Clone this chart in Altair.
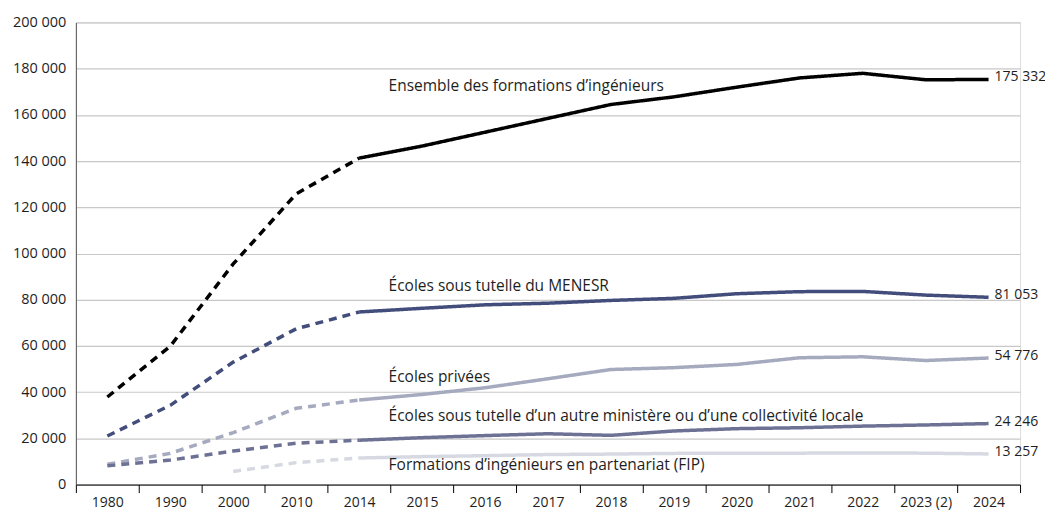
import altair as alt
import pandas as pd

years = ["1980", "1990", "2000", "2010", "2014", "2015", "2016", "2017", "2018",
         "2019", "2020", "2021", "2022", "2023 (2)", "2024"]

series_names = [
    "Ensemble des formations d’ingénieurs",
    "Écoles sous tutelle du MENESR",
    "Écoles privées",
    "Écoles sous tutelle d’un autre ministère ou d’une collectivité locale",
    "Formations d’ingénieurs en partenariat (FIP)",
]

ensemble = [37900, 59900, 95500, 125800, 141300, 146500, 152500, 158500, 164500,
            167800, 172000, 176000, 178000, 175200, 175332]
menesr = [21000, 34300, 53000, 67400, 74700, 76300, 77800, 78500, 79700,
          80600, 82600, 83500, 83600, 82000, 81053]
privees = [8800, 13500, 22500, 33000, 36600, 39000, 41900, 45800, 49800,
           50600, 52000, 54900, 55300, 53700, 54776]
autre = [8100, 10600, 14500, 17900, 19200, 20300, 21200, 22000, 21300,
         23200, 24200, 24600, 25300, 25800, 26400]
fip = [None, None, 5700, 9500, 11500, 12100, 12500, 13000, 13200,
       13500, 13600, 13600, 13700, 13600, 13257]

end_labels = ["175 332", "81 053", "54 776", "24 246", "13 257"]
label_values = [172600, 86100, 46400, 29600, 8400]
y_ticks = [0, 20000, 40000, 60000, 80000, 100000, 120000, 140000, 160000, 180000, 200000]

colors = ["#000000", "#434d7c", "#a6aabe", "#6d7295", "#d7d9e2"]

all_values = [ensemble, menesr, privees, autre, fip]

rows = []
split = years.index("2014")
for name, vals in zip(series_names, all_values):
    for i, (yr, v) in enumerate(zip(years, vals)):
        if v is None:
            continue
        if i <= split:
            rows.append({"serie": name, "annee": yr, "valeur": v, "segment": "avant", "ordre": i})
        if i >= split:
            rows.append({"serie": name, "annee": yr, "valeur": v, "segment": "apres", "ordre": i})
df = pd.DataFrame(rows)

ends = pd.DataFrame({
    "serie": series_names,
    "annee": [years[-1]] * 5,
    "valeur": [v[-1] for v in all_values],
    "texte": end_labels,
})
names_df = pd.DataFrame({
    "serie": series_names,
    "annee": ["2015"] * 5,
    "valeur": label_values,
})

FONT = "Open Sans"
xscale = alt.Scale(type="band", domain=years, paddingInner=0, paddingOuter=0)
yscale = alt.Scale(domain=[0, 200000], nice=False)
cscale = alt.Scale(domain=series_names, range=colors)

x_line = alt.X("annee:N", scale=xscale, bandPosition=0.5, sort=years,
               axis=alt.Axis(title=None, tickBand="extent", labelAngle=0, domainColor="#000000",
                             tickColor="#000000", tickSize=8, labelPadding=3, grid=False,
                             labelFont=FONT, labelFontSize=14, labelColor="#1e1e1e"))
y_enc = alt.Y("valeur:Q", scale=yscale,
              axis=alt.Axis(title=None, values=y_ticks, labelOverlap=False,
                            labelExpr="datum.value == 0 ? '0' : format(datum.value/1000, 'd') + ' 000'",
                            ticks=False, labelPadding=10, domainColor="#555555",
                            gridColor="#c8c8c8", gridWidth=1.2,
                            labelFont=FONT, labelFontSize=14.5, labelColor="#1e1e1e"))

lines = alt.Chart(df).mark_line(strokeWidth=3.5, strokeCap="butt").encode(
    x=x_line,
    y=y_enc,
    color=alt.Color("serie:N", scale=cscale, legend=None),
    detail="segment:N",
    order="ordre:Q",
    strokeDash=alt.StrokeDash("segment:N",
                              scale=alt.Scale(domain=["avant", "apres"], range=[[8, 6], [1, 0]]),
                              legend=None),
)

end_text = alt.Chart(ends).mark_text(align="left", baseline="middle", dx=6, dy=-2,
                                     font=FONT, fontSize=14, color="#1e1e1e").encode(
    x=alt.X("annee:N", scale=xscale, bandPosition=0.5, sort=years),
    y=alt.Y("valeur:Q", scale=yscale),
    text="texte:N",
)

name_text = alt.Chart(names_df).mark_text(align="left", baseline="middle", dx=-2,
                                          font=FONT, fontSize=15.5, color="#1e1e1e").encode(
    x=alt.X("annee:N", scale=xscale, bandPosition=0, sort=years),
    y=alt.Y("valeur:Q", scale=yscale),
    text="serie:N",
)

chart = alt.layer(lines, end_text, name_text).properties(
    width=946, height=463,
    autosize=alt.AutoSizeParams(type="none"),
    padding={"left": 68, "top": 14, "right": 25, "bottom": 35},
).configure_view(stroke=None).configure(background="white")

chart.save("out.html", embed_options={"renderer": "svg", "actions": False})
